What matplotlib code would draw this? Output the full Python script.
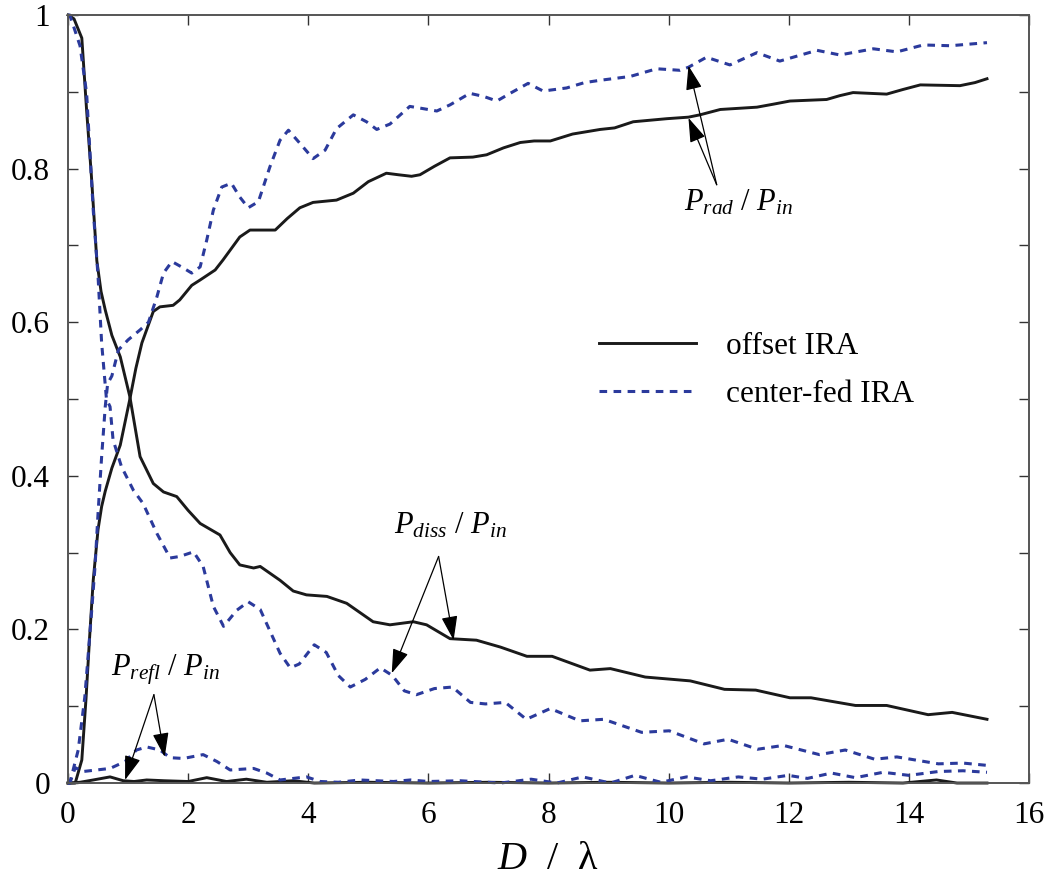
import matplotlib
matplotlib.use("Agg")
import matplotlib.pyplot as plt

plt.rcParams["font.family"] = ["Liberation Serif", "DejaVu Serif"]
plt.rcParams["mathtext.fontset"] = "custom"
plt.rcParams["mathtext.rm"] = "Liberation Serif"
plt.rcParams["mathtext.it"] = "Liberation Serif:italic"

# offset IRA
off_rad_x = [0.0, 0.12, 0.23, 0.3, 0.36, 0.42, 0.5, 0.56, 0.62, 0.73, 0.87, 1.03, 1.13, 1.23,
             1.42, 1.53, 1.75, 1.86, 2.06, 2.2, 2.45, 2.58, 2.86, 3.03, 3.2, 3.45, 3.65, 3.86,
             4.08, 4.47, 4.75, 5.0, 5.3, 5.5, 5.72, 5.86, 6.1, 6.36, 6.74, 6.97, 7.25, 7.53,
             7.76, 8.03, 8.4, 8.86, 9.1, 9.41, 9.97, 10.33, 10.52, 10.86, 11.47, 11.75, 12.02,
             12.63, 12.85, 13.07, 13.63, 13.9, 14.19, 14.85, 15.1, 15.3]
off_rad_y = [0.0, 0.0, 0.03, 0.11, 0.19, 0.264, 0.33, 0.36, 0.38, 0.41, 0.44, 0.5, 0.54, 0.573,
             0.614, 0.62, 0.622, 0.629, 0.648, 0.655, 0.668, 0.681, 0.711, 0.72, 0.72, 0.72,
             0.735, 0.749, 0.756, 0.759, 0.768, 0.783, 0.794, 0.792, 0.79, 0.792, 0.803, 0.814,
             0.815, 0.818, 0.827, 0.834, 0.836, 0.836, 0.845, 0.851, 0.853, 0.861, 0.865, 0.867,
             0.87, 0.877, 0.88, 0.884, 0.888, 0.89, 0.895, 0.899, 0.897, 0.903, 0.909, 0.908,
             0.912, 0.917]

off_diss_x = [0.0, 0.1, 0.23, 0.31, 0.39, 0.48, 0.55, 0.62, 0.73, 0.87, 1.03, 1.2, 1.42, 1.59,
              1.81, 2.0, 2.2, 2.53, 2.7, 2.86, 3.09, 3.2, 3.53, 3.75, 3.97, 4.31, 4.64, 5.08,
              5.36, 5.75, 5.97, 6.36, 6.8, 7.2, 7.64, 8.06, 8.69, 9.03, 9.61, 10.36, 10.93,
              11.45, 12.02, 12.37, 13.11, 13.63, 14.32, 14.72, 15.3]
off_diss_y = [1.0, 0.995, 0.97, 0.876, 0.79, 0.68, 0.64, 0.616, 0.583, 0.555, 0.503, 0.425,
              0.39, 0.379, 0.373, 0.355, 0.338, 0.323, 0.3, 0.284, 0.28, 0.282, 0.264, 0.25,
              0.245, 0.243, 0.234, 0.21, 0.206, 0.21, 0.206, 0.188, 0.186, 0.177, 0.165, 0.165,
              0.147, 0.149, 0.138, 0.133, 0.122, 0.121, 0.111, 0.111, 0.101, 0.101, 0.089, 0.092,
              0.083]

off_refl_x = [0.0, 0.2, 0.42, 0.7, 0.92, 1.1, 1.31, 1.6, 2.0, 2.31, 2.64, 2.97, 3.31, 3.75, 4.1,
              5.0, 6.0, 7.0, 8.0, 9.0, 10.0, 11.0, 12.0, 13.0, 13.9, 14.46, 14.8, 15.3]
off_refl_y = [0.0, 0.001, 0.004, 0.008, 0.003, 0.002, 0.004, 0.003, 0.002, 0.007, 0.002, 0.005,
              0.001, 0.003, 0.0, 0.001, 0.0, 0.001, 0.0, 0.001, 0.0, 0.001, 0.0, 0.001, 0.0,
              0.004, 0.0, 0.0]

# center-fed IRA
cen_rad_x = [0.0, 0.03, 0.17, 0.28, 0.39, 0.45, 0.5, 0.56, 0.62, 0.66, 0.73, 0.84, 1.0, 1.2,
             1.34, 1.48, 1.59, 1.73, 1.89, 2.06, 2.2, 2.31, 2.42, 2.56, 2.72, 2.86, 3.0, 3.17,
             3.36, 3.53, 3.67, 3.86, 4.08, 4.28, 4.47, 4.75, 4.97, 5.14, 5.36, 5.69, 5.92, 6.14,
             6.36, 6.69, 6.92, 7.14, 7.36, 7.66, 7.91, 8.3, 8.6, 8.86, 9.36, 9.8, 10.19, 10.33,
             10.63, 11.02, 11.47, 11.85, 12.47, 12.85, 13.41, 13.8, 14.24, 14.69, 15.3]
cen_rad_y = [0.0, 0.0, 0.043, 0.112, 0.22, 0.282, 0.351, 0.425, 0.49, 0.52, 0.53, 0.564, 0.577,
             0.59, 0.6, 0.633, 0.664, 0.679, 0.672, 0.664, 0.672, 0.707, 0.746, 0.776, 0.781,
             0.763, 0.749, 0.757, 0.802, 0.837, 0.85, 0.833, 0.813, 0.824, 0.852, 0.87, 0.861,
             0.851, 0.858, 0.881, 0.878, 0.875, 0.883, 0.898, 0.894, 0.888, 0.898, 0.911, 0.901,
             0.905, 0.912, 0.915, 0.92, 0.93, 0.928, 0.932, 0.945, 0.935, 0.951, 0.94, 0.954,
             0.948, 0.956, 0.952, 0.961, 0.96, 0.964]

cen_diss_x = [0.0, 0.03, 0.2, 0.31, 0.42, 0.5, 0.56, 0.64, 0.7, 0.75, 0.89, 1.09, 1.25, 1.48,
              1.7, 1.86, 2.09, 2.25, 2.42, 2.59, 2.81, 3.0, 3.2, 3.53, 3.7, 3.85, 4.1, 4.3, 4.5,
              4.7, 4.95, 5.2, 5.4, 5.6, 5.8, 6.1, 6.4, 6.7, 6.95, 7.28, 7.63, 8.03, 8.52, 8.92,
              9.55, 10.01, 10.59, 10.99, 11.48, 11.91, 12.51, 12.94, 13.43, 13.8, 14.49, 14.9,
              15.3]
cen_diss_y = [1.0, 1.0, 0.96, 0.898, 0.746, 0.66, 0.573, 0.5, 0.49, 0.447, 0.412, 0.381, 0.364,
              0.325, 0.293, 0.295, 0.301, 0.282, 0.23, 0.204, 0.225, 0.236, 0.226, 0.169, 0.15,
              0.155, 0.18, 0.17, 0.14, 0.125, 0.135, 0.15, 0.14, 0.12, 0.115, 0.123, 0.125,
              0.105, 0.103, 0.105, 0.083, 0.097, 0.081, 0.083, 0.066, 0.068, 0.051, 0.057, 0.044,
              0.049, 0.037, 0.043, 0.031, 0.034, 0.025, 0.026, 0.023]

cen_refl_x = [0.0, 0.03, 0.12, 0.25, 0.7, 0.95, 1.14, 1.31, 1.53, 1.7, 1.92, 2.25, 2.48, 2.7,
              3.09, 3.31, 3.53, 3.97, 4.2, 4.5, 4.86, 5.42, 5.7, 6.0, 6.53, 7.2, 7.71, 8.14,
              8.57, 9.03, 9.44, 9.87, 10.3, 10.7, 11.16, 11.56, 11.99, 12.31, 12.71, 13.11,
              13.57, 14.0, 14.49, 14.9, 15.3]
cen_refl_y = [0.0, 0.0, 0.02, 0.015, 0.019, 0.028, 0.043, 0.047, 0.043, 0.033, 0.032, 0.037,
              0.028, 0.017, 0.019, 0.013, 0.004, 0.008, 0.002, 0.001, 0.004, 0.002, 0.004,
              0.002, 0.003, 0.0, 0.005, 0.0, 0.008, 0.0, 0.01, 0.001, 0.008, 0.003, 0.008,
              0.005, 0.01, 0.006, 0.013, 0.007, 0.014, 0.01, 0.015, 0.016, 0.014]

x_ticks = [0, 2, 4, 6, 8, 10, 12, 14, 16]
y_ticks = [0, 0.1, 0.2, 0.3, 0.4, 0.5, 0.6, 0.7, 0.8, 0.9, 1.0]
y_tick_labels = ["0", "", "0.2", "", "0.4", "", "0.6", "", "0.8", "", "1"]

BLUE = "#2b3a9c"
BLACK = "#1a1a1a"

fig = plt.figure(figsize=(10.51, 8.88), dpi=100)
ax = fig.add_axes([0.0647, 0.1182, 0.9144, 0.8649])

solid = dict(color=BLACK, lw=2.1, clip_on=False)
dashed = dict(color=BLUE, lw=2.2, dashes=(2.5, 2.1), clip_on=False)

ax.plot(off_rad_x, off_rad_y, label="offset IRA", **solid)
ax.plot(off_diss_x, off_diss_y, **solid)
ax.plot(off_refl_x, off_refl_y, **solid)
ax.plot(cen_rad_x, cen_rad_y, label="center-fed IRA", **dashed)
ax.plot(cen_diss_x, cen_diss_y, **dashed)
ax.plot(cen_refl_x, cen_refl_y, **dashed)

ax.set_xlim(0, 16)
ax.set_ylim(0, 1)
ax.set_xticks(x_ticks)
ax.set_yticks(y_ticks)
ax.set_yticklabels(y_tick_labels)
ax.tick_params(direction="in", length=7, width=1.0, top=True, right=True,
               labelsize=22.5, pad=13, color="#333333")
for spine in ax.spines.values():
    spine.set_color("#555555")
    spine.set_linewidth(1.4)

ax.set_xlabel("$D$  /  λ", fontsize=29, labelpad=8)

arrow = dict(arrowstyle="-|>,head_length=1.5,head_width=0.5", color="black", lw=0.9,
             shrinkA=0, shrinkB=0, mutation_scale=10)

# P_rad / P_in
ax.text(11.16, 0.746, "$P_{rad}$ / $P_{in}$", fontsize=22, ha="center", va="baseline")
ax.annotate("", xy=(10.33, 0.934), xytext=(10.8, 0.779), arrowprops=arrow)
ax.annotate("", xy=(10.33, 0.866), xytext=(10.8, 0.779), arrowprops=arrow)

# P_diss / P_in
ax.text(6.36, 0.3255, "$P_{diss}$ / $P_{in}$", fontsize=22, ha="center", va="baseline")
ax.annotate("", xy=(6.42, 0.186), xytext=(6.17, 0.295), arrowprops=arrow)
ax.annotate("", xy=(5.39, 0.143), xytext=(6.17, 0.295), arrowprops=arrow)

# P_refl / P_in
ax.text(1.63, 0.1406, "$P_{refl}$ / $P_{in}$", fontsize=22, ha="center", va="baseline")
ax.annotate("", xy=(0.95, 0.004), xytext=(1.43, 0.115), arrowprops=arrow)
ax.annotate("", xy=(1.61, 0.034), xytext=(1.43, 0.115), arrowprops=arrow)

ax.legend(loc="upper left", bbox_to_anchor=(0.54, 0.604), frameon=False, fontsize=22.5,
          handlelength=3.1, handletextpad=0.95, labelspacing=0.62, borderaxespad=0)

fig.savefig("out.png", dpi=100)
